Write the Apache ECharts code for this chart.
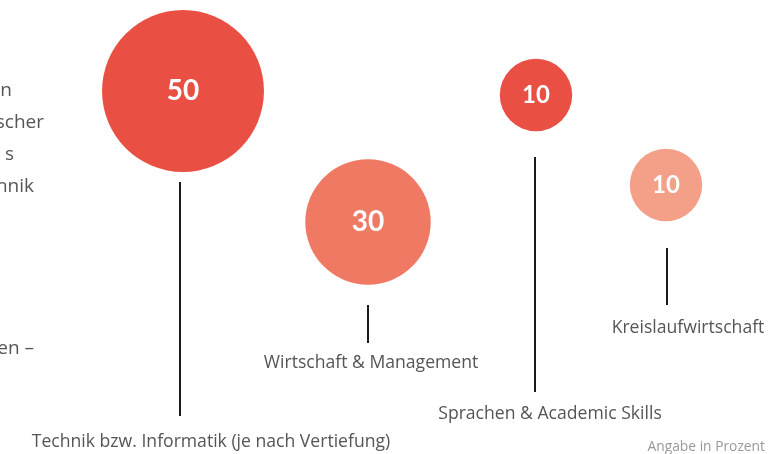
<!DOCTYPE html>
<html>
<head>
<meta charset="utf-8">
<script src="https://cdn.jsdelivr.net/npm/echarts@6/dist/echarts.min.js"></script>
<style>
  html, body { margin: 0; padding: 0; background: #fff; }
  #cht { width: 768px; height: 454px; }
</style>
</head>
<body>
<div id="cht"></div>
<script>
// data
var categories = ['Technik bzw. Informatik (je nach Vertiefung)', 'Wirtschaft & Management', 'Sprachen & Academic Skills', 'Kreislaufwirtschaft'];
var shares = [50, 30, 10, 10];

// layout, in page pixels (axes run 0..768 / 0..454)
var bubbleX = [183, 368, 536, 666];
var bubbleY = [91, 222, 95, 185];
var stemX = [180, 368, 535, 667];
var stemTop = [182, 305, 157, 248];
var stemBottom = [416, 343, 392, 305];
var labelX = [211, 371, 550, 688];
var labelY = [442, 363, 414, 328];
var colors = ['#e94f43', '#ef7962', '#e94f43', '#f49f87'];

var textFont = '"Open Sans", "Noto Sans", sans-serif';

var bubbles = shares.map(function (v, i) {
    return {
        value: [bubbleX[i], bubbleY[i], v],
        itemStyle: { color: colors[i], opacity: 1 },
        label: { fontSize: v >= 30 ? 28 : 24 }
    };
});

var stems = categories.map(function (c, i) {
    return [stemX[i], stemTop[i], stemBottom[i], labelX[i], labelY[i], i];
});

// visible ends of the page text that runs in from the left
var sideLines = [
    ['n', 12, 91],
    ['scher', 44, 123],
    ['s', 14, 155],
    ['hnik', 34, 187],
    ['en –', 34, 349]
];

var config = {
    animation: false,
    grid: { left: 0, right: 0, top: 0, bottom: 0 },
    xAxis: { type: 'value', min: 0, max: 768, show: false },
    yAxis: { type: 'value', min: 0, max: 454, inverse: true, show: false },
    graphic: sideLines.map(function (l) {
        return {
            type: 'text', x: l[1], y: l[2],
            style: { text: l[0], fill: '#555', font: '19px ' + textFont, align: 'right', verticalAlign: 'middle' }
        };
    }).concat([{
        type: 'text', right: 3, bottom: 0,
        style: { text: 'Angabe in Prozent', fill: '#999', font: '13.8px ' + textFont }
    }]),
    series: [
        {
            type: 'custom',
            data: stems,
            renderItem: function (params, api) {
                var top = api.coord([api.value(0), api.value(1)]);
                var bot = api.coord([api.value(0), api.value(2)]);
                var lab = api.coord([api.value(3), api.value(4)]);
                return {
                    type: 'group',
                    children: [
                        { type: 'line', shape: { x1: top[0], y1: top[1], x2: bot[0], y2: bot[1] }, style: { stroke: '#1a1a1a', lineWidth: 2 } },
                        { type: 'text', x: lab[0], y: lab[1], style: { text: categories[api.value(5)], fill: '#555', font: '17.6px ' + textFont, align: 'center', verticalAlign: 'middle' } }
                    ]
                };
            }
        },
        {
            type: 'scatter',
            data: bubbles,
            symbolSize: function (val) { return 22.9 * Math.sqrt(val[2]); },
            label: {
                show: true,
                position: 'inside',
                formatter: function (p) { return p.value[2]; },
                color: '#fff',
                fontWeight: 'bold',
                fontFamily: 'Lato, sans-serif'
            },
            emphasis: { disabled: true }
        }
    ]
};

window.onload = function () {
    var myChart = echarts.init(document.getElementById('cht'));
    myChart.setOption(config);
};
</script>
</body>
</html>
